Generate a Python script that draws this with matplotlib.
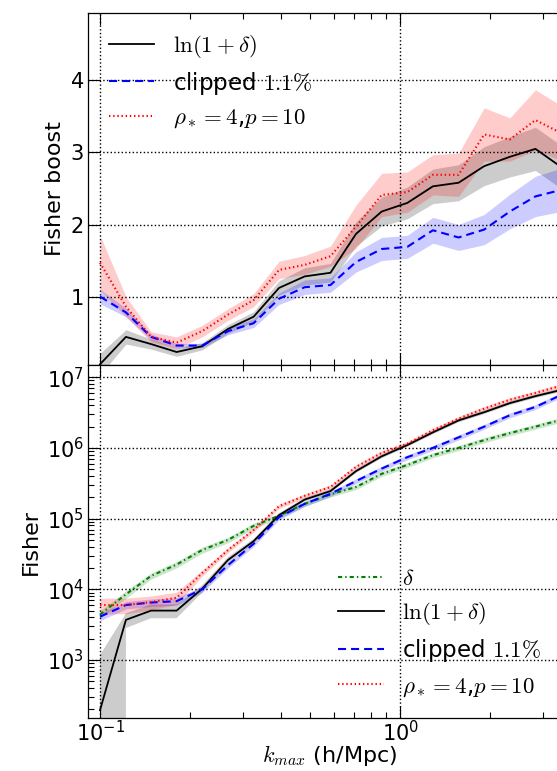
import numpy as np
import matplotlib
matplotlib.use('Agg')
import matplotlib.pyplot as plt

plt.rcParams['mathtext.fontset'] = 'cm'
plt.rcParams['lines.scale_dashes'] = False
plt.rcParams['xtick.direction'] = 'in'
plt.rcParams['ytick.direction'] = 'in'
plt.rcParams['xtick.top'] = True
plt.rcParams['ytick.right'] = True

# kmax bins (h/Mpc)
kmax = [0.100, 0.122, 0.148, 0.180, 0.219, 0.267, 0.325, 0.395, 0.481, 0.586,
        0.713, 0.868, 1.057, 1.286, 1.566, 1.906, 2.320, 2.824, 3.437]

# top panel: Fisher boost
boost_ln = [0.06, 0.44, 0.34, 0.23, 0.31, 0.55, 0.72, 1.12, 1.28, 1.33,
            1.87, 2.18, 2.30, 2.53, 2.58, 2.81, 2.94, 3.05, 2.80]
boost_ln_err = [0.15, 0.10, 0.07, 0.06, 0.05, 0.06, 0.07, 0.10, 0.12, 0.13,
                0.17, 0.20, 0.22, 0.24, 0.25, 0.27, 0.28, 0.30, 0.30]
boost_clip = [1.00, 0.78, 0.44, 0.32, 0.32, 0.52, 0.63, 0.97, 1.13, 1.16,
              1.48, 1.66, 1.69, 1.92, 1.82, 1.93, 2.18, 2.39, 2.48]
boost_clip_err = [0.10, 0.06, 0.04, 0.03, 0.03, 0.05, 0.06, 0.08, 0.10, 0.10,
                  0.14, 0.16, 0.16, 0.18, 0.18, 0.21, 0.24, 0.28, 0.30]
boost_rho = [1.47, 0.86, 0.44, 0.36, 0.52, 0.75, 0.95, 1.37, 1.44, 1.56,
             1.97, 2.41, 2.45, 2.69, 2.69, 3.25, 3.18, 3.45, 3.27]
boost_rho_err = [0.38, 0.14, 0.07, 0.08, 0.08, 0.08, 0.09, 0.12, 0.13, 0.14,
                 0.30, 0.30, 0.28, 0.28, 0.30, 0.37, 0.30, 0.42, 0.38]

# bottom panel: Fisher information
fish_delta = [4.4e3, 8.5e3, 1.55e4, 2.24e4, 3.6e4, 5.0e4, 7.9e4, 1.1e5, 1.62e5, 2.2e5,
              2.8e5, 4.3e5, 5.75e5, 7.9e5, 1.0e6, 1.29e6, 1.62e6, 2.0e6, 2.5e6]
fish_delta_rel = [0.12, 0.12, 0.10, 0.10, 0.10, 0.09, 0.09, 0.08, 0.08, 0.08,
                  0.08, 0.08, 0.08, 0.08, 0.08, 0.08, 0.08, 0.08, 0.08]
fish_ln = [195, 3700, 5000, 5000, 1.02e4, 2.6e4, 4.8e4, 1.12e5, 1.86e5, 2.45e5,
           4.7e5, 7.6e5, 1.1e6, 1.66e6, 2.45e6, 3.2e6, 4.3e6, 5.4e6, 6.6e6]
fish_ln_rel = [5.0, 0.235, 0.22, 0.22, 0.12, 0.10, 0.08, 0.07, 0.06, 0.06,
               0.06, 0.06, 0.06, 0.06, 0.06, 0.06, 0.06, 0.06, 0.06]
fish_clip = [4.1e3, 6.0e3, 6.5e3, 6.8e3, 1.0e4, 2.2e4, 4.4e4, 1.05e5, 1.62e5, 2.24e5,
             3.4e5, 5.1e5, 7.4e5, 1.0e6, 1.41e6, 2.0e6, 2.9e6, 3.8e6, 5.6e6]
fish_clip_rel = [0.12, 0.12, 0.12, 0.12, 0.10, 0.09, 0.08, 0.08, 0.08, 0.08,
                 0.08, 0.08, 0.08, 0.08, 0.08, 0.08, 0.08, 0.08, 0.08]
fish_rho = [6.0e3, 6.0e3, 6.6e3, 7.6e3, 1.7e4, 3.6e4, 6.9e4, 1.5e5, 2.1e5, 2.8e5,
            5.4e5, 8.5e5, 1.15e6, 1.78e6, 2.6e6, 3.6e6, 4.8e6, 6.0e6, 7.6e6]
fish_rho_rel = [0.25, 0.25, 0.22, 0.20, 0.10, 0.08, 0.07, 0.07, 0.07, 0.07,
                0.07, 0.07, 0.07, 0.07, 0.07, 0.07, 0.07, 0.07, 0.07]

k = np.array(kmax)

green = (0, 0.5, 0)
sty_delta = dict(color=green, lw=1.5, dashes=(3, 2.2, 1, 2.2))
sty_ln = dict(color='k', lw=1.3, ls='-')
sty_clip = dict(color='b', lw=1.5, dashes=(5.8, 3.6))
sty_rho = dict(color='r', lw=1.5, dashes=(1, 2))

lab_delta = r'$\delta$'
lab_ln = r'$\ln(1+\delta)$'
lab_clip = r'clipped $1.1\%$'
lab_rho = r'$\rho_* = 4$,$p = 10$'

fig = plt.figure(figsize=(5.57, 7.71), dpi=100)
ax1 = fig.add_axes([0.158, 0.5266, 0.869, 0.4569])
ax2 = fig.add_axes([0.158, 0.0684, 0.869, 0.4582], sharex=ax1)


def band(ax, y, e, color):
	y = np.array(y)
	e = np.array(e)
	ax.fill_between(k, y - e, y + e, color=color, alpha=0.2, linewidth=0)


# top panel
band(ax1, boost_ln, boost_ln_err, 'k')
ax1.plot(k, boost_ln, label=lab_ln, **sty_ln)
band(ax1, boost_clip, boost_clip_err, 'b')
ax1.plot(k, boost_clip, label=lab_clip, **sty_clip)
band(ax1, boost_rho, boost_rho_err, 'r')
ax1.plot(k, boost_rho, label=lab_rho, **sty_rho)

ax1.set_xscale('log')
ax1.set_xlim(0.0912, 3.74)
ax1.set_ylim(0.05, 4.94)
ax1.set_yticks([1, 2, 3, 4])
ax1.set_ylabel('Fisher boost', fontsize=16)
ax1.legend(loc='upper left', frameon=False, fontsize=16.5, handlelength=2.0,
	handletextpad=0.8, labelspacing=0.4, borderaxespad=0.5)
plt.setp(ax1.get_xticklabels(), visible=False)

# bottom panel
band(ax2, fish_delta, np.array(fish_delta) * np.array(fish_delta_rel), green)
ax2.plot(k, fish_delta, label=lab_delta, **sty_delta)
band(ax2, fish_ln, np.array(fish_ln) * np.array(fish_ln_rel), 'k')
ax2.plot(k, fish_ln, label=lab_ln, **sty_ln)
band(ax2, fish_clip, np.array(fish_clip) * np.array(fish_clip_rel), 'b')
ax2.plot(k, fish_clip, label=lab_clip, **sty_clip)
band(ax2, fish_rho, np.array(fish_rho) * np.array(fish_rho_rel), 'r')
ax2.plot(k, fish_rho, label=lab_rho, **sty_rho)

ax2.set_yscale('log')
ax2.set_ylim(150, 1.49e7)
ax2.set_ylabel('Fisher', fontsize=16)
ax2.set_xlabel(r'$k_{max}$ (h/Mpc)', fontsize=16, labelpad=-2)
ax2.legend(loc='lower right', bbox_to_anchor=(0.977, 0.0), frameon=False,
	fontsize=16.5, handlelength=2.0, handletextpad=0.8, labelspacing=0.45,
	borderaxespad=0.45)

for ax in (ax1, ax2):
	ax.grid(True, which='major', color='k', linestyle=':', linewidth=1)
	ax.tick_params(which='major', length=8.5, width=0.8, labelsize=15, pad=3)
	ax.tick_params(which='minor', length=4.5, width=0.8)
	for s in ax.spines.values():
		s.set_linewidth(0.9)
ax2.tick_params(axis='x', which='major', pad=1.5)

fig.savefig('out.png', dpi=100)
